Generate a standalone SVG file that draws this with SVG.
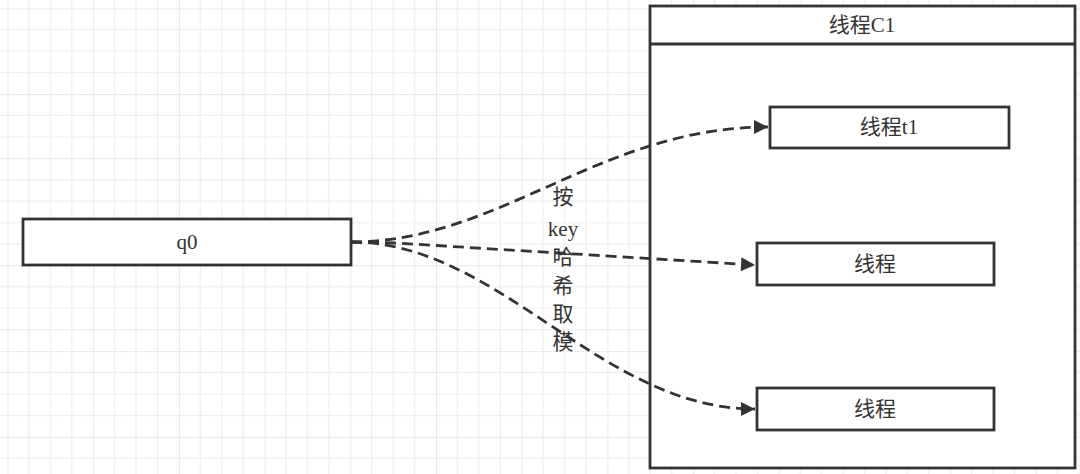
<svg xmlns="http://www.w3.org/2000/svg" width="1080" height="474" viewBox="0 0 1080 474">
<style>
.box{fill:#fff;stroke:#333;stroke-width:2.8}
.lbl{font-family:"Liberation Serif","Noto Sans CJK SC",serif;font-size:21px;fill:#333;text-anchor:middle;dominant-baseline:central}
.edge{fill:none;stroke:#333;stroke-width:2.8;stroke-dasharray:11 6}
</style>
<defs>
<pattern id="grid" patternUnits="userSpaceOnUse" x="7.5" y="8.3" width="85.7" height="85.7">
<path d="M21.4 0V85.7M42.85 0V85.7M64.3 0V85.7M0 21.4H85.7M0 42.85H85.7M0 64.3H85.7" stroke="#eeeeee" stroke-width="1.2" fill="none"/>
<path d="M0 0V85.7M0 0H85.7" stroke="#e3e3e3" stroke-width="1.5" fill="none"/>
</pattern>
<marker id="arr" viewBox="0 0 10 10" refX="10" refY="5" markerWidth="5.5" markerHeight="5" orient="auto" markerUnits="strokeWidth">
<path d="M0 0L10 5L0 10Z" fill="#333"/>
</marker>
</defs>
<rect width="1080" height="474" fill="#fff"/>
<rect width="1080" height="474" fill="url(#grid)"/>
<g id="container">
<rect class="box" x="650" y="6" width="425" height="462"/>
<line x1="650" y1="44" x2="1075" y2="44" stroke="#333" stroke-width="2.8"/>
<text class="lbl" x="862" y="25">线程C1</text>
</g>
<g id="q0">
<rect class="box" x="23" y="219" width="328" height="46"/>
<text class="lbl" x="187" y="242">q0</text>
</g>
<g id="t1">
<rect class="box" x="770" y="107" width="239" height="41"/>
<text class="lbl" x="889" y="127">线程t1</text>
</g>
<g id="t2">
<rect class="box" x="757" y="243" width="237" height="42"/>
<text class="lbl" x="875" y="264">线程</text>
</g>
<g id="t3">
<rect class="box" x="757" y="388" width="237" height="42"/>
<text class="lbl" x="875" y="409">线程</text>
</g>
<g id="connectors">
<path class="edge" d="M351 242C500 242 600 127 768 127" marker-end="url(#arr)"/>
<path class="edge" d="M351 242L395 243L755 265" marker-end="url(#arr)"/>
<path class="edge" d="M351 242C500 242 600 409 755 409" marker-end="url(#arr)"/>
</g>
<g id="edge-label">
<text class="lbl" x="563" y="197">按</text>
<text class="lbl" x="563" y="229">key</text>
<text class="lbl" x="563" y="257">哈</text>
<text class="lbl" x="563" y="286">希</text>
<text class="lbl" x="563" y="314">取</text>
<text class="lbl" x="563" y="342">模</text>
</g>
</svg>
